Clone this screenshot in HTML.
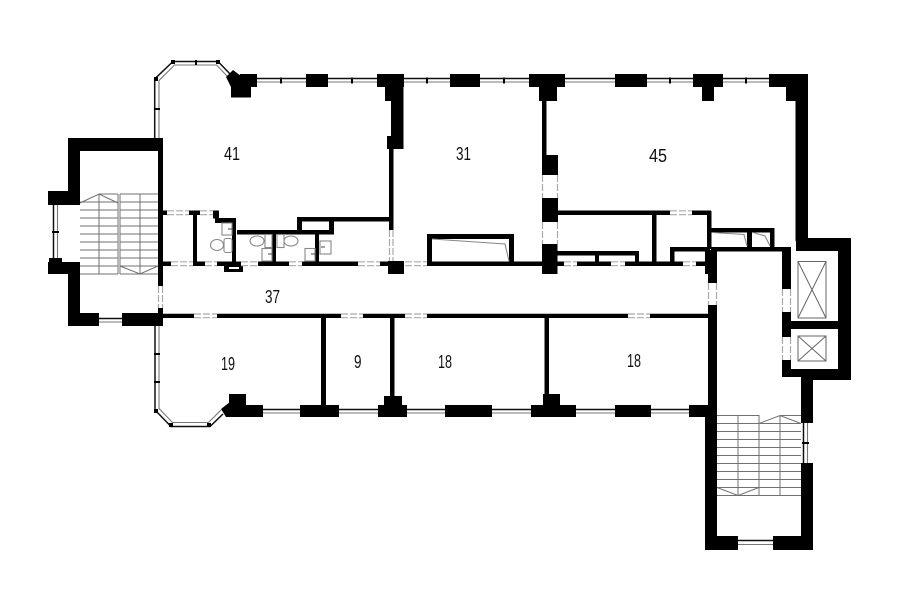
<!DOCTYPE html>
<html><head><meta charset="utf-8"><style>
html,body{margin:0;padding:0;background:#fff;width:900px;height:604px;overflow:hidden}
svg{display:block}
text{font-family:"Liberation Sans",sans-serif;font-size:18px;fill:#111}
</style></head><body>
<svg width="900" height="604" viewBox="0 0 900 604" xmlns="http://www.w3.org/2000/svg">
<rect width="900" height="604" fill="#fff"/>

<!-- windows -->
<g fill="none" stroke="#111" stroke-width="1.5">
<path d="M232 76L218 61.500H173L154.700 79V138M257 78.500H306M328 78.500H377M404 78.500H450M480 78.500H529M565 78.500H615M647 78.500H693M723 78.500H769"/>
<path d="M159 138V80.500L174.500 65H216.500L229 78M257 82H306M328 82H377M404 82H450M480 82H529M565 82H615M647 82H693M723 82H769" stroke="#777" stroke-width="1.100"/>
<path d="M155 326V410L171 426.500H210L223 414M263 409.500H300M339 409.500H378M407 409.500H445M492 409.500H531M576 409.500H615M651 409.500H689"/>
<path d="M159 326V408.500L172.500 422.500H208.500L221 410M263 413H300M339 413H378M407 413H445M492 413H531M576 413H615M651 413H689" stroke="#777" stroke-width="1.100"/>
<path d="M53.500 205V258M99 318.500H122M738 540.500H773M803.500 423V463"/>
<path d="M57.500 205V258M99 322H122M738 544.500H773M807.500 423V463" stroke="#777" stroke-width="1.100"/>
</g>
<!-- window ticks & nodes -->
<path fill="#000" d="M280 77.500h2v6h-2zM351 77.500h2v6h-2zM426 77.500h2v6h-2zM503 77.500h2v6h-2zM669 77.500h2v6h-2zM745 77.500h2v6h-2zM154 108h6v2h-6zM195 60h2v5h-2zM154 353h6v2h-6zM154 381h6v2h-6zM52 231h7v2h-7zM802 442h7v2h-7zM154 77h4v4h-4zM171 60h4v4h-4zM216 60h4v4h-4zM154 409h4v4h-4zM169 423h4v4h-4zM207 423h4v4h-4z"/>

<!-- walls -->
<path fill="#000" d="
M240 74h17v13h-17zM231 85h20v12.500h-20zM226 77L233 70L241 76V90L231 87zM306 74h22v13h-22z
M377 74h27v13h-27zM385 87h18.500v14h-18.500zM391 101h12.500v36h-12.500zM387 136h16.500v13h-16.500zM389 149h4.500v81h-4.500z
M450 74h30v13h-30zM529 74h36v13h-36zM539 87h18v14h-18zM542 101h4.500v54h-4.500zM542 155h16v20h-16zM542 198h16v24h-16zM542 244h15.500v30h-15.500z
M615 74h32v13h-32zM693 74h30v13h-30zM702 87h12v14h-12zM769 74h39v13h-39zM786 87h22v14h-22zM795.500 101h12.500v140h-12.500z
M68 138h95v13h-95zM68 138h12v60h-12zM48 191h32v14h-32zM48 262h32v12h-32zM49 258h13v5h-13zM68 274h12v42h-12zM68 313h31v13h-31zM122 313h41v13h-41zM158 138h5v148h-5zM158 308h5v6h-5z
M163 210.500h4v4.500h-4zM189 210.500h11v4.500h-11zM193 215h4v47h-4zM213 210.500h6v8h-6zM215 218h21v5h-21zM232 218h4v45h-4z
M237 230h97v4.500h-97zM297 217h5v13h-5zM297 217h93v4.500h-93zM329 221h5v10h-5zM272 234h4v28h-4zM315 234h4v28h-4z
M163 261.500h8v4.500h-8zM193 261.500h12v4.500h-12zM217 261.500h24v4.500h-24zM258 261.500h31v4.500h-31zM302 261.500h56v4.500h-56zM380 261.500h8v4.500h-8zM388 261h16v13h-16z
M224 266h19v6h-19z
M427 234h87v5h-87zM427 234h5v32h-5zM509 234h5v32h-5zM427 261.500h115v4.500h-115z
M557 210.500h113v4.500h-113zM692 210.500h19v4.500h-19zM652 212h4.500v50h-4.500zM707 211h4.500v38h-4.500z
M557 251h82v4.500h-82zM595 255h4v7h-4zM635 251h4v12h-4zM670 247h4.500v15h-4.500zM670 247h40v4.500h-40z
M557 261.500h7v4.500h-7zM577 261.500h34v4.500h-34zM625 261.500h58v4.500h-58zM696 261.500h9v4.500h-9z
M705 250h12v24h-12zM708 274h9v9h-9zM708 305h9v112h-9zM705 417h12v133h-12z
M711 228h63v4.500h-63zM747 232h5v15h-5zM770 228h4.500v19h-4.500zM711 247h71v4.500h-71z
M796 238h55v13h-55zM838 238h13v142h-13zM782 247h9v42h-9zM782 312h9v25h-9zM782 360h9v17h-9zM791 321h47v8h-47zM782 369h56v8h-56zM801 377h50v3h-50z
M801 380h12v43h-12zM801 463h12v87h-12zM705 536h33v14h-33zM773 536h40v14h-40zM690 405h18v12h-18z
M163 313.700h31v4.300h-31zM217 313.700h124v4.300h-124zM363 313.700h42v4.300h-42zM427 313.700h201v4.300h-201zM650 313.700h59v4.300h-59z
M321 318h5v87h-5zM390 318h4.500v78h-4.500zM544.500 318h4.500v80h-4.500z
M229 394h17v23h-17zM246 405h17v12h-17zM221 409L230 402V417H226zM300 405h39v12h-39zM384 396h18v9h-18zM378 405h29v12h-29z
M445 405h47v12h-47zM531 405h45v12h-45zM543 394h17v11h-17zM615 405h36v12h-36zM689 405h20v12h-20z"/>
<path fill="#fff" d="M229 267h10v2h-10z"/>

<!-- doors -->
<g fill="none" stroke="#aaa" stroke-width="1.200" stroke-dasharray="7 2">
<path d="M167 210.800H189M167 214.700H189M200 210.800H213M200 214.700H213M171 261.800H193M171 265.700H193M205 261.800H217M205 265.700H217M241 261.800H258M241 265.700H258M289 261.800H302M289 265.700H302M358 261.800H380M358 265.700H380M405 261.800H427M405 265.700H427"/>
<path d="M564 261.800H577M564 265.700H577M611 261.800H625M611 265.700H625M683 261.800H696M683 265.700H696M670 210.800H692M670 214.700H692"/>
<path d="M194 314H217M194 317.700H217M341 314H363M341 317.700H363M405 314H427M405 317.700H427M628 314H650M628 317.700H650"/>
<path d="M158.500 286V308M162.500 286V308M389.500 230V261M393 230V261M542.500 175V198M557.500 175V198M542.500 222V244M557.500 222V244M708.500 283V305M716.500 283V305M782.500 289V312M790.500 289V312M782.500 337V360M790.500 337V360"/>
</g>

<!-- stairs -->
<g fill="none" stroke="#707070" stroke-width="1">
<path d="M99 194H118M120 194H158M80 202H118M120 202H158M80 210H118M120 210H158M80 218H118M120 218H158M80 226H118M120 226H158M80 234H118M120 234H158M80 242H118M120 242H158M80 250H118M120 250H158M80 258H118M120 258H158M80 266H118M120 266H158M80 274H118M120 274H158"/>
<path d="M99 194V274M118 194V274M120 194V274M140 194V274M80 203L99 194L118 203M120 266L140 274L158 266"/>
<path d="M717 415.500H759M780 415.500H801M717 423.500H801M717 431.500H801M717 439.500H801M717 447.500H801M717 455.500H801M717 463.500H801M717 471.500H801M717 479.500H801M717 487.500H801M717 495.500H801"/>
<path d="M738 415V495M759 415V495M780 415V495M759 423.500L780 415.500L801 423.500M717 487.500L738 495.500L759 487.500"/>
</g>

<!-- elevators -->
<g fill="none" stroke="#666" stroke-width="1">
<rect x="798" y="261.500" width="28" height="56.500"/><path d="M798 261.500L826 318M826 261.500L798 318"/>
<rect x="798" y="336" width="28" height="25"/><path d="M798 336L826 361M826 336L798 361"/>
</g>

<!-- fixtures -->
<g fill="none" stroke="#888" stroke-width="1.100">
<path d="M432 239L505 244L509 261M712 232.500L744 234.500L747 246M753 232.500L765 236L770 246"/>
<ellipse cx="217" cy="245" rx="6.500" ry="5.500"/><rect x="224" y="238.500" width="8" height="14" rx="2"/>
<ellipse cx="257" cy="241" rx="7" ry="5"/><rect x="265" y="234.500" width="7" height="13"/>
<ellipse cx="291" cy="241" rx="7" ry="5"/><rect x="277" y="234.500" width="7" height="13"/>
<rect x="222" y="223" width="10" height="12"/><rect x="262" y="248.500" width="10" height="12.500"/><rect x="305" y="248.500" width="10" height="12.500"/><rect x="320" y="241" width="11" height="13"/>
<path d="M228 229h4M268 254h4M311 254h4M321 247h4" stroke="#444"/>
</g>

<!-- labels -->
<text x="224" y="160" textLength="16" lengthAdjust="spacingAndGlyphs">41</text>
<text x="456" y="160" textLength="15" lengthAdjust="spacingAndGlyphs">31</text>
<text x="649" y="162" textLength="18" lengthAdjust="spacingAndGlyphs">45</text>
<text x="265" y="303" textLength="15" lengthAdjust="spacingAndGlyphs">37</text>
<text x="221" y="370" textLength="14" lengthAdjust="spacingAndGlyphs">19</text>
<text x="354" y="368" textLength="7.500" lengthAdjust="spacingAndGlyphs">9</text>
<text x="438" y="368" textLength="14" lengthAdjust="spacingAndGlyphs">18</text>
<text x="627" y="367" textLength="14" lengthAdjust="spacingAndGlyphs">18</text>
</svg>
</body></html>
